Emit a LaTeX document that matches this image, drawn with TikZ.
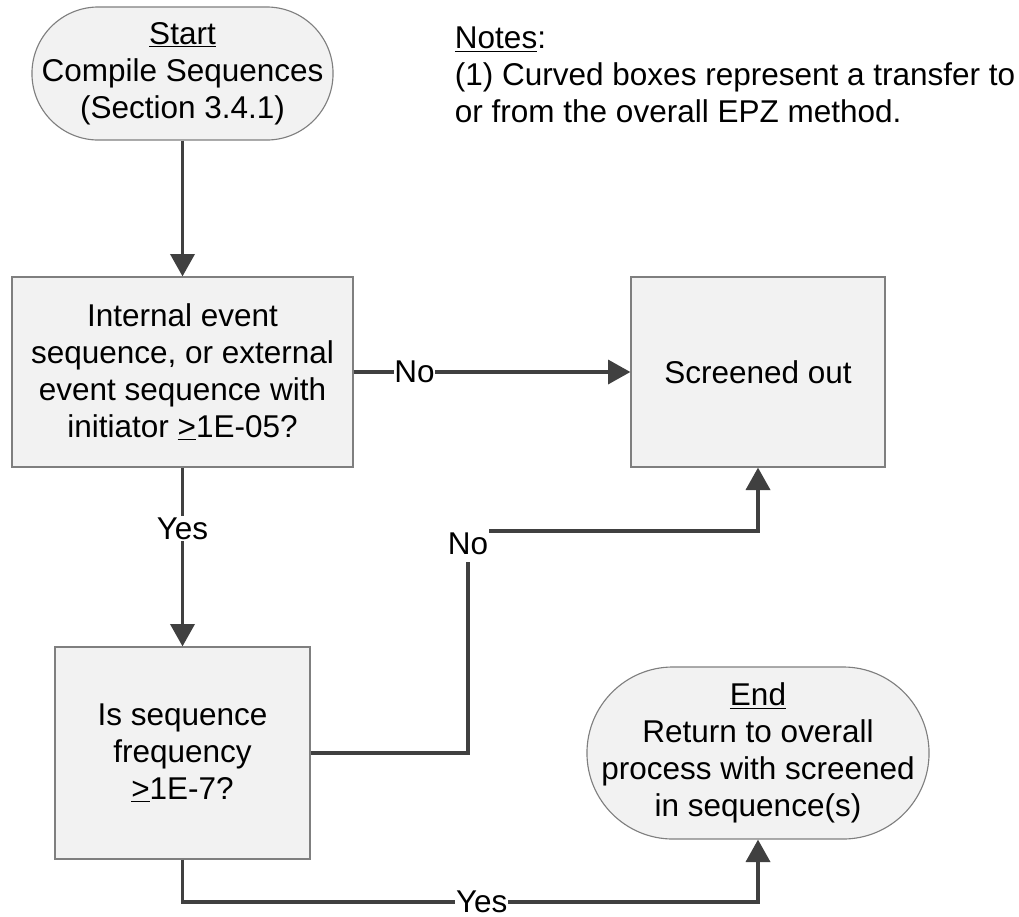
\documentclass[tikz,border=0pt]{standalone}
\usepackage{fontspec}
\setmainfont{Liberation Sans}
\usetikzlibrary{arrows.meta}

\definecolor{boxfill}{HTML}{F2F2F2}
\definecolor{boxline}{HTML}{7F7F7F}
\definecolor{arrowline}{HTML}{404040}

\tikzset{
  arr/.style={draw=arrowline, line width=2.6pt, -{Triangle[length=5.6mm, width=6mm]}},
  lbl/.style={fill=white, inner xsep=0.5pt, inner ysep=1pt}
}

\begin{document}
\begin{tikzpicture}[x=0.025cm, y=-0.025cm, font=\fontsize{22.4}{26.3}\selectfont]

      \useasboundingbox (0,0) rectangle (1019,916);

      \begin{scope}[every node/.style={draw=boxline, fill=boxfill, line width=0.8pt, align=center, inner sep=0pt}]
        \node[rounded corners=1.66cm, minimum width=7.525cm, minimum height=3.325cm] (1) at (182.5,73.5)
          {\underline{Start}\\Compile Sequences\\(Section 3.4.1)};
        \node[minimum width=8.525cm, minimum height=4.75cm] (2) at (182.5,372)
          {Internal event\\sequence, or external\\event sequence with\\initiator \underline{>}1E-05?};
        \node[minimum width=6.35cm, minimum height=4.75cm] (3) at (758,372) {Screened out};
        \node[minimum width=6.375cm, minimum height=5.3cm] (4) at (182.5,753)
          {Is sequence\\frequency\\\underline{>}1E-7?};
        \node[rounded corners=2.15cm, minimum width=8.55cm, minimum height=4.3cm] (5) at (758,753)
          {\underline{End}\\Return to overall\\process with screened\\in sequence(s)};
      \end{scope}

      \node[anchor=west, align=left] (6) at (450,75)
        {\underline{Notes}:\\(1) Curved boxes represent a transfer to\\or from the overall EPZ method.};

      \coordinate (7) at (468,531);
      \coordinate (8) at (182.5,902);

      \begin{scope}[every node/.style={lbl}]
        \path (1) edge[arr] (2);
        \path (2) edge[arr] node[pos=0.22] {No} (3);
        \path (2) edge[arr] node[pos=0.34] {Yes} (4);
        \draw[arr] (4.east) -| (7) node[inner ysep=5pt, yshift=-0.325cm] {No} -| (3.south);
        \draw[arr] (4.south) -- (8) -| node[pos=0.26] {Yes} (5.south);
      \end{scope}

    \end{tikzpicture}
\end{document}
